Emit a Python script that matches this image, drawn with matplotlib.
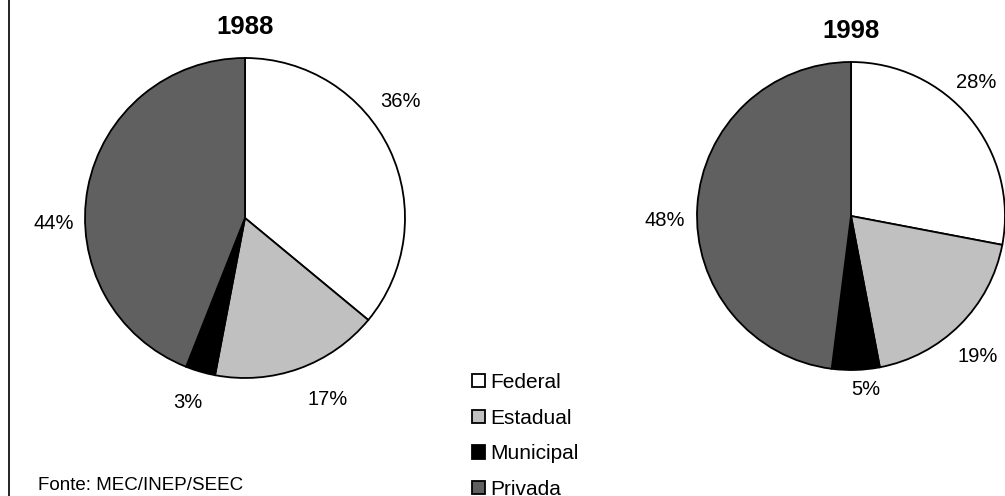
import matplotlib
matplotlib.use('Agg')
import matplotlib.pyplot as plt

plt.rcParams['font.family'] = ['Liberation Sans', 'DejaVu Sans']

categorias = ['Federal', 'Estadual', 'Municipal', 'Privada']
cores = ['#ffffff', '#c0c0c0', '#000000', '#606060']
anos = ['1988', '1998']
valores_1988 = [36, 17, 3, 44]
valores_1998 = [28, 19, 5, 48]

W, H = 1005, 496
fig = plt.figure(figsize=(W / 100, H / 100), dpi=100)
ax = fig.add_axes([0, 0, 1, 1])

# centro e raio de cada pizza em pixels (y para cima)
pizzas = [(valores_1988, (245, H - 218), 160),
          (valores_1998, (851, H - 216), 154)]
# ajuste fino dos rotulos (estilo excel), em pixels
ajustes = [[(-18, 35), (18, -1), (-4, 0), (-3, -41)],
           [(-17, 16), (-4, -10), (9, 11), (-2, -16)]]

for ano, (vals, centro, raio), desl in zip(anos, pizzas, ajustes):
    wedges, _, pcts = ax.pie(vals, colors=cores, startangle=90, counterclock=False,
                             center=centro, radius=raio, autopct='%1.0f%%',
                             pctdistance=1.2,
                             wedgeprops=dict(edgecolor='black', linewidth=1.3),
                             textprops=dict(fontsize=14.5))
    for t, (dx, dy) in zip(pcts, desl):
        x, y = t.get_position()
        t.set_position((x + dx, y + dy))
    ax.text(centro[0], centro[1] + raio + 31, ano, ha='center', va='center',
            fontsize=18.5, fontweight='bold')
    if ano == '1988':
        leg_handles = wedges

ax.set_xlim(0, W)
ax.set_ylim(0, H)
ax.set_aspect('equal')
ax.axis('off')

# linha vertical da esquerda
ax.plot([9, 9], [0, H], color='black', lw=1.2)

ax.text(38, H - 486, 'Fonte: MEC/INEP/SEEC', fontsize=13.5, ha='left', va='center')

fig.legend(leg_handles, categorias, loc='upper left',
           bbox_to_anchor=(472 / W, 1 - 373 / H), frameon=False, fontsize=15,
           handlelength=0.62, handleheight=0.62, handletextpad=0.25,
           labelspacing=0.8, borderpad=0, borderaxespad=0)

fig.savefig('out.png', dpi=100)
